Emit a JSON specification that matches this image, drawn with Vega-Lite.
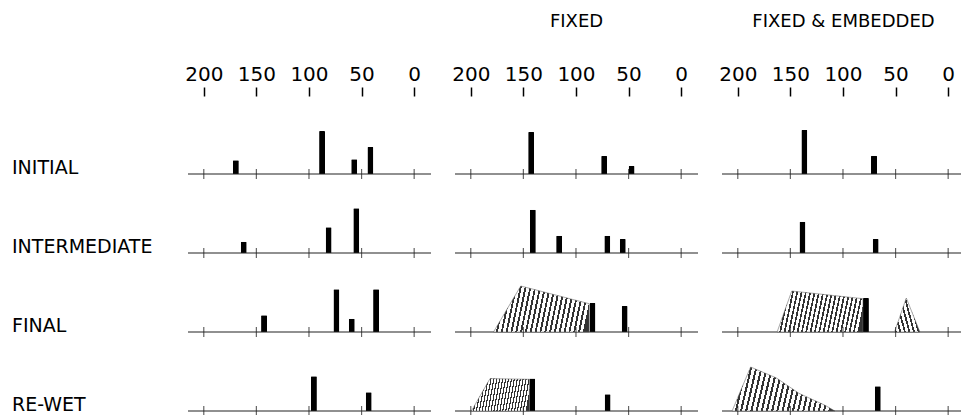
{
  "$schema": "https://vega.github.io/schema/vega-lite/v6.json",
  "padding": {"left": 12, "top": 13, "right": 0, "bottom": 0},
  "background": "white",
  "datasets": {
    "d": [
      {"stage": "INITIAL", "col": "", "kind": "bar", "x": 169.5, "h": 13.7},
      {"stage": "INITIAL", "col": "", "kind": "bar", "x": 87.5, "h": 43},
      {"stage": "INITIAL", "col": "", "kind": "bar", "x": 57, "h": 14.7},
      {"stage": "INITIAL", "col": "", "kind": "bar", "x": 41.6, "h": 27},
      {"stage": "INTERMEDIATE", "col": "", "kind": "bar", "x": 162, "h": 11.3},
      {"stage": "INTERMEDIATE", "col": "", "kind": "bar", "x": 81.3, "h": 25.7},
      {"stage": "INTERMEDIATE", "col": "", "kind": "bar", "x": 55, "h": 44.7},
      {"stage": "FINAL", "col": "", "kind": "bar", "x": 142.7, "h": 16.7},
      {"stage": "FINAL", "col": "", "kind": "bar", "x": 73.9, "h": 42.7},
      {"stage": "FINAL", "col": "", "kind": "bar", "x": 59.3, "h": 13.3},
      {"stage": "FINAL", "col": "", "kind": "bar", "x": 36.2, "h": 42.7},
      {"stage": "RE-WET", "col": "", "kind": "bar", "x": 95.3, "h": 34.7},
      {"stage": "RE-WET", "col": "", "kind": "bar", "x": 43.2, "h": 18.7},
      {"stage": "INITIAL", "col": "FIXED", "kind": "bar", "x": 142.6, "h": 42},
      {"stage": "INITIAL", "col": "FIXED", "kind": "bar", "x": 73.2, "h": 18},
      {"stage": "INITIAL", "col": "FIXED", "kind": "bar", "x": 47.1, "h": 8},
      {"stage": "INTERMEDIATE", "col": "FIXED", "kind": "bar", "x": 141, "h": 43.3},
      {"stage": "INTERMEDIATE", "col": "FIXED", "kind": "bar", "x": 116, "h": 17.3},
      {"stage": "INTERMEDIATE", "col": "FIXED", "kind": "bar", "x": 70.2, "h": 17.3},
      {"stage": "INTERMEDIATE", "col": "FIXED", "kind": "bar", "x": 55.5, "h": 14},
      {"stage": "FINAL", "col": "FIXED", "kind": "bar", "x": 84.3, "h": 29},
      {"stage": "FINAL", "col": "FIXED", "kind": "bar", "x": 53.7, "h": 26},
      {"stage": "RE-WET", "col": "FIXED", "kind": "bar", "x": 141.6, "h": 32.4},
      {"stage": "RE-WET", "col": "FIXED", "kind": "bar", "x": 69.9, "h": 16.7},
      {"stage": "INITIAL", "col": "FIXED & EMBEDDED", "kind": "bar", "x": 136.7, "h": 44},
      {"stage": "INITIAL", "col": "FIXED & EMBEDDED", "kind": "bar", "x": 70.5, "h": 18.3},
      {"stage": "INTERMEDIATE", "col": "FIXED & EMBEDDED", "kind": "bar", "x": 138.5, "h": 31.3},
      {"stage": "INTERMEDIATE", "col": "FIXED & EMBEDDED", "kind": "bar", "x": 68.9, "h": 14},
      {"stage": "FINAL", "col": "FIXED & EMBEDDED", "kind": "bar", "x": 78.2, "h": 34},
      {"stage": "RE-WET", "col": "FIXED & EMBEDDED", "kind": "bar", "x": 66.9, "h": 24.7},

      {"stage": "FINAL", "col": "FIXED", "kind": "hatch", "g": "a", "x": 178.4, "h": 0},
      {"stage": "FINAL", "col": "FIXED", "kind": "hatch", "g": "a", "x": 152.5, "h": 46},
      {"stage": "FINAL", "col": "FIXED", "kind": "hatch", "g": "a", "x": 87.5, "h": 28.3},
      {"stage": "RE-WET", "col": "FIXED", "kind": "hatch", "g": "b", "x": 199.4, "h": 0},
      {"stage": "RE-WET", "col": "FIXED", "kind": "hatch", "g": "b", "x": 181.7, "h": 32.4},
      {"stage": "RE-WET", "col": "FIXED", "kind": "hatch", "g": "b", "x": 144.3, "h": 31.7},
      {"stage": "FINAL", "col": "FIXED & EMBEDDED", "kind": "hatch", "g": "c", "x": 162.6, "h": 0},
      {"stage": "FINAL", "col": "FIXED & EMBEDDED", "kind": "hatch", "g": "c", "x": 148.7, "h": 41},
      {"stage": "FINAL", "col": "FIXED & EMBEDDED", "kind": "hatch", "g": "c", "x": 81, "h": 33.3},
      {"stage": "FINAL", "col": "FIXED & EMBEDDED", "kind": "hatch", "g": "d", "x": 51, "h": 0},
      {"stage": "FINAL", "col": "FIXED & EMBEDDED", "kind": "hatch", "g": "d", "x": 39.8, "h": 34},
      {"stage": "FINAL", "col": "FIXED & EMBEDDED", "kind": "hatch", "g": "d", "x": 26.9, "h": 0},
      {"stage": "RE-WET", "col": "FIXED & EMBEDDED", "kind": "hatch", "g": "e", "x": 205.4, "h": 0},
      {"stage": "RE-WET", "col": "FIXED & EMBEDDED", "kind": "hatch", "g": "e", "x": 187.8, "h": 44},
      {"stage": "RE-WET", "col": "FIXED & EMBEDDED", "kind": "hatch", "g": "e", "x": 163.2, "h": 33},
      {"stage": "RE-WET", "col": "FIXED & EMBEDDED", "kind": "hatch", "g": "e", "x": 141.9, "h": 17.7},
      {"stage": "RE-WET", "col": "FIXED & EMBEDDED", "kind": "hatch", "g": "e", "x": 117, "h": 5.7},
      {"stage": "RE-WET", "col": "FIXED & EMBEDDED", "kind": "hatch", "g": "e", "x": 107.7, "h": 0},

      {"stage": "INITIAL", "col": "", "kind": "tick", "x": 0}, {"stage": "INITIAL", "col": "", "kind": "tick", "x": 50}, {"stage": "INITIAL", "col": "", "kind": "tick", "x": 100}, {"stage": "INITIAL", "col": "", "kind": "tick", "x": 150}, {"stage": "INITIAL", "col": "", "kind": "tick", "x": 200},
      {"stage": "INTERMEDIATE", "col": "", "kind": "tick", "x": 0}, {"stage": "INTERMEDIATE", "col": "", "kind": "tick", "x": 50}, {"stage": "INTERMEDIATE", "col": "", "kind": "tick", "x": 100}, {"stage": "INTERMEDIATE", "col": "", "kind": "tick", "x": 150}, {"stage": "INTERMEDIATE", "col": "", "kind": "tick", "x": 200},
      {"stage": "FINAL", "col": "", "kind": "tick", "x": 0}, {"stage": "FINAL", "col": "", "kind": "tick", "x": 50}, {"stage": "FINAL", "col": "", "kind": "tick", "x": 100}, {"stage": "FINAL", "col": "", "kind": "tick", "x": 150}, {"stage": "FINAL", "col": "", "kind": "tick", "x": 200},
      {"stage": "RE-WET", "col": "", "kind": "tick", "x": 0}, {"stage": "RE-WET", "col": "", "kind": "tick", "x": 50}, {"stage": "RE-WET", "col": "", "kind": "tick", "x": 100}, {"stage": "RE-WET", "col": "", "kind": "tick", "x": 150}, {"stage": "RE-WET", "col": "", "kind": "tick", "x": 200},
      {"stage": "INITIAL", "col": "FIXED", "kind": "tick", "x": 0}, {"stage": "INITIAL", "col": "FIXED", "kind": "tick", "x": 50}, {"stage": "INITIAL", "col": "FIXED", "kind": "tick", "x": 100}, {"stage": "INITIAL", "col": "FIXED", "kind": "tick", "x": 150}, {"stage": "INITIAL", "col": "FIXED", "kind": "tick", "x": 200},
      {"stage": "INTERMEDIATE", "col": "FIXED", "kind": "tick", "x": 0}, {"stage": "INTERMEDIATE", "col": "FIXED", "kind": "tick", "x": 50}, {"stage": "INTERMEDIATE", "col": "FIXED", "kind": "tick", "x": 100}, {"stage": "INTERMEDIATE", "col": "FIXED", "kind": "tick", "x": 150}, {"stage": "INTERMEDIATE", "col": "FIXED", "kind": "tick", "x": 200},
      {"stage": "FINAL", "col": "FIXED", "kind": "tick", "x": 0}, {"stage": "FINAL", "col": "FIXED", "kind": "tick", "x": 50}, {"stage": "FINAL", "col": "FIXED", "kind": "tick", "x": 100}, {"stage": "FINAL", "col": "FIXED", "kind": "tick", "x": 150}, {"stage": "FINAL", "col": "FIXED", "kind": "tick", "x": 200},
      {"stage": "RE-WET", "col": "FIXED", "kind": "tick", "x": 0}, {"stage": "RE-WET", "col": "FIXED", "kind": "tick", "x": 50}, {"stage": "RE-WET", "col": "FIXED", "kind": "tick", "x": 100}, {"stage": "RE-WET", "col": "FIXED", "kind": "tick", "x": 150}, {"stage": "RE-WET", "col": "FIXED", "kind": "tick", "x": 200},
      {"stage": "INITIAL", "col": "FIXED & EMBEDDED", "kind": "tick", "x": 0}, {"stage": "INITIAL", "col": "FIXED & EMBEDDED", "kind": "tick", "x": 50}, {"stage": "INITIAL", "col": "FIXED & EMBEDDED", "kind": "tick", "x": 100}, {"stage": "INITIAL", "col": "FIXED & EMBEDDED", "kind": "tick", "x": 150}, {"stage": "INITIAL", "col": "FIXED & EMBEDDED", "kind": "tick", "x": 200},
      {"stage": "INTERMEDIATE", "col": "FIXED & EMBEDDED", "kind": "tick", "x": 0}, {"stage": "INTERMEDIATE", "col": "FIXED & EMBEDDED", "kind": "tick", "x": 50}, {"stage": "INTERMEDIATE", "col": "FIXED & EMBEDDED", "kind": "tick", "x": 100}, {"stage": "INTERMEDIATE", "col": "FIXED & EMBEDDED", "kind": "tick", "x": 150}, {"stage": "INTERMEDIATE", "col": "FIXED & EMBEDDED", "kind": "tick", "x": 200},
      {"stage": "FINAL", "col": "FIXED & EMBEDDED", "kind": "tick", "x": 0}, {"stage": "FINAL", "col": "FIXED & EMBEDDED", "kind": "tick", "x": 50}, {"stage": "FINAL", "col": "FIXED & EMBEDDED", "kind": "tick", "x": 100}, {"stage": "FINAL", "col": "FIXED & EMBEDDED", "kind": "tick", "x": 150}, {"stage": "FINAL", "col": "FIXED & EMBEDDED", "kind": "tick", "x": 200},
      {"stage": "RE-WET", "col": "FIXED & EMBEDDED", "kind": "tick", "x": 0}, {"stage": "RE-WET", "col": "FIXED & EMBEDDED", "kind": "tick", "x": 50}, {"stage": "RE-WET", "col": "FIXED & EMBEDDED", "kind": "tick", "x": 100}, {"stage": "RE-WET", "col": "FIXED & EMBEDDED", "kind": "tick", "x": 150}, {"stage": "RE-WET", "col": "FIXED & EMBEDDED", "kind": "tick", "x": 200}
    ]
  },
  "data": {"name": "d"},
  "facet": {
    "row": {"field": "stage", "type": "nominal", "sort": ["INITIAL", "INTERMEDIATE", "FINAL", "RE-WET"], "title": null, "header": {"labels": false}},
    "column": {"field": "col", "type": "nominal", "sort": ["", "FIXED", "FIXED & EMBEDDED"], "title": null,
      "header": {"labelFont": "DejaVu Sans", "labelFontSize": 18, "labelColor": "black", "labelPadding": 33}}
  },
  "spacing": {"row": 14, "column": 22},
  "spec": {
    "width": 243,
    "height": 60,
    "layer": [
      {
        "transform": [{"filter": "datum.kind == 'bar'"}],
        "mark": {"type": "bar", "orient": "vertical", "color": "black", "size": 6, "cornerRadiusTopLeft": 1, "cornerRadiusTopRight": 1},
        "encoding": {
          "x": {"field": "x", "type": "quantitative", "title": null,
            "scale": {"domain": [-16, 215], "reverse": true, "nice": false, "zero": false, "padding": 0},
            "axis": {"orient": "top", "values": [0, 50, 100, 150, 200], "domain": false, "grid": false, "tickSize": 9, "tickWidth": 1.5, "tickColor": "black", "labelFont": "DejaVu Sans", "labelFontSize": 20, "labelColor": "black", "labelPadding": 3, "offset": 18, "title": null}},
          "y": {"field": "h", "type": "quantitative", "scale": {"domain": [0, 60], "nice": false, "padding": 0}, "axis": null}
        }
      },
      {
        "transform": [{"filter": "datum.kind == 'tick' && datum.x == 0"}],
        "mark": {"type": "rule", "color": "#222", "strokeWidth": 1.1},
        "encoding": {"y": {"datum": 0, "type": "quantitative"}}
      },
      {
        "transform": [{"filter": "datum.kind == 'hatch'"}],
        "mark": {"type": "area", "stroke": "#555", "strokeWidth": 0.5,
          "fill": {"gradient": "linear", "x1": 0, "y1": 0.45, "x2": 1, "y2": 0.55, "stops": [
            {"offset": 0, "color": "#fff"}, {"offset": 0.03, "color": "#fff"}, {"offset": 0.03, "color": "#333"}, {"offset": 0.05, "color": "#333"},
            {"offset": 0.05, "color": "#fff"}, {"offset": 0.08, "color": "#fff"}, {"offset": 0.08, "color": "#333"}, {"offset": 0.10, "color": "#333"},
            {"offset": 0.10, "color": "#fff"}, {"offset": 0.13, "color": "#fff"}, {"offset": 0.13, "color": "#333"}, {"offset": 0.15, "color": "#333"},
            {"offset": 0.15, "color": "#fff"}, {"offset": 0.18, "color": "#fff"}, {"offset": 0.18, "color": "#333"}, {"offset": 0.20, "color": "#333"},
            {"offset": 0.20, "color": "#fff"}, {"offset": 0.23, "color": "#fff"}, {"offset": 0.23, "color": "#333"}, {"offset": 0.25, "color": "#333"},
            {"offset": 0.25, "color": "#fff"}, {"offset": 0.28, "color": "#fff"}, {"offset": 0.28, "color": "#333"}, {"offset": 0.30, "color": "#333"},
            {"offset": 0.30, "color": "#fff"}, {"offset": 0.33, "color": "#fff"}, {"offset": 0.33, "color": "#333"}, {"offset": 0.35, "color": "#333"},
            {"offset": 0.35, "color": "#fff"}, {"offset": 0.38, "color": "#fff"}, {"offset": 0.38, "color": "#333"}, {"offset": 0.40, "color": "#333"},
            {"offset": 0.40, "color": "#fff"}, {"offset": 0.43, "color": "#fff"}, {"offset": 0.43, "color": "#333"}, {"offset": 0.45, "color": "#333"},
            {"offset": 0.45, "color": "#fff"}, {"offset": 0.48, "color": "#fff"}, {"offset": 0.48, "color": "#333"}, {"offset": 0.50, "color": "#333"},
            {"offset": 0.50, "color": "#fff"}, {"offset": 0.53, "color": "#fff"}, {"offset": 0.53, "color": "#333"}, {"offset": 0.55, "color": "#333"},
            {"offset": 0.55, "color": "#fff"}, {"offset": 0.58, "color": "#fff"}, {"offset": 0.58, "color": "#333"}, {"offset": 0.60, "color": "#333"},
            {"offset": 0.60, "color": "#fff"}, {"offset": 0.63, "color": "#fff"}, {"offset": 0.63, "color": "#333"}, {"offset": 0.65, "color": "#333"},
            {"offset": 0.65, "color": "#fff"}, {"offset": 0.68, "color": "#fff"}, {"offset": 0.68, "color": "#333"}, {"offset": 0.70, "color": "#333"},
            {"offset": 0.70, "color": "#fff"}, {"offset": 0.73, "color": "#fff"}, {"offset": 0.73, "color": "#333"}, {"offset": 0.75, "color": "#333"},
            {"offset": 0.75, "color": "#fff"}, {"offset": 0.78, "color": "#fff"}, {"offset": 0.78, "color": "#333"}, {"offset": 0.80, "color": "#333"},
            {"offset": 0.80, "color": "#fff"}, {"offset": 0.83, "color": "#fff"}, {"offset": 0.83, "color": "#333"}, {"offset": 0.85, "color": "#333"},
            {"offset": 0.85, "color": "#fff"}, {"offset": 0.88, "color": "#fff"}, {"offset": 0.88, "color": "#333"}, {"offset": 0.90, "color": "#333"},
            {"offset": 0.90, "color": "#fff"}, {"offset": 0.93, "color": "#fff"}, {"offset": 0.93, "color": "#333"}, {"offset": 0.95, "color": "#333"},
            {"offset": 0.95, "color": "#fff"}, {"offset": 0.98, "color": "#fff"}, {"offset": 0.98, "color": "#333"}, {"offset": 1, "color": "#333"}
          ]}},
        "encoding": {
          "x": {"field": "x", "type": "quantitative"},
          "y": {"field": "h", "type": "quantitative", "stack": null},
          "detail": {"field": "g"}
        }
      },
      {
        "transform": [{"filter": "datum.kind == 'tick'"}],
        "mark": {"type": "tick", "orient": "vertical", "color": "#222", "size": 10, "thickness": 1.2},
        "encoding": {
          "x": {"field": "x", "type": "quantitative"},
          "y": {"datum": 0, "type": "quantitative"}
        }
      },
      {
        "transform": [{"filter": "datum.kind == 'tick' && datum.x == 200 && datum.col == ''"}],
        "mark": {"type": "text", "font": "DejaVu Sans", "fontSize": 19, "color": "black", "align": "left", "baseline": "alphabetic"},
        "encoding": {
          "x": {"datum": 382.3, "type": "quantitative"},
          "y": {"datum": 0, "type": "quantitative"},
          "text": {"field": "stage"}
        }
      }
    ]
  },
  "config": {"view": {"stroke": null}}
}
